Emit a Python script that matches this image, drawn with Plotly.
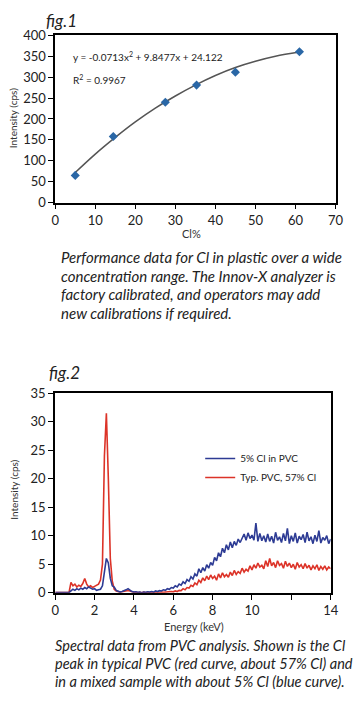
import plotly.graph_objects as go

# ---------------- data: fig.1 ----------------
cl_pct = [5, 14.5, 27.5, 35.3, 45, 61]
intensity = [65, 158, 240, 281, 312, 361]
fit_x = [5, 10, 15, 20, 25, 30, 35, 40, 45, 50, 55, 61]
fit_y = [72, 116, 156, 193, 226, 255, 281, 304, 323, 338, 350, 360]
fig1_xticks = [0, 10, 20, 30, 40, 50, 60, 70]
fig1_yticks = [0, 50, 100, 150, 200, 250, 300, 350, 400]

# ---------------- data: fig.2 ----------------
e_start, e_step = 0.0, 0.1
blue_5pct = [
    0, 0, 0, 0, 0, 0, 0, 0,
    0.3, 0.6, 0.4, 0.7, 0.5, 0.8, 0.6, 0.9, 0.7, 1.0,
    0.8, 0.6, 0.7, 0.4, 0.5, 0.6, 1.2, 3.5, 6.0, 5.2,
    2.5, 1.2, 1.0, 0.4, 0.2, 0.1, 0.2, 0.3, 0.5, 0.7,
    0.4, 0.2, 0.1, 0.15, 0.05, 0.1, 0.0, 0.1, 0.05, 0.15,
    0.1, 0.2, 0.1, 0.3, 0.2, 0.35, 0.3, 0.5, 0.4, 0.7,
    0.6, 0.9, 0.8, 1.2, 1.0, 1.5, 1.3, 1.9, 1.6, 2.3,
    2.0, 2.8, 2.4, 3.3, 2.9, 4.2, 3.5, 4.4, 3.8, 4.9,
    4.3, 5.3, 4.8, 6.2, 5.6, 7.0, 6.3, 7.8, 7.0, 8.4,
    7.5, 8.9, 7.9, 9.0, 8.3, 9.4, 8.8, 9.6, 10.3, 9.2,
    10.5, 9.5, 10.1, 9.2, 12.2, 9.0, 10.4, 9.1, 10.0, 8.9,
    10.3, 9.0, 9.9, 8.7, 10.6, 9.2, 9.8, 8.8, 10.4, 9.1,
    11.3, 8.6, 10.0, 9.0, 10.5, 8.7, 9.9, 9.3, 10.2, 8.8,
    10.6, 9.1, 9.8, 8.6, 10.1, 9.0, 10.9, 8.7, 9.7, 9.2,
    10.0, 8.6, 9.4,
]
red_57pct = [
    0, 0, 0, 0, 0, 0, 0, 0,
    1.8, 1.2, 1.5, 1.0, 1.3, 1.1, 1.6, 2.5, 1.5, 1.0,
    1.2, 0.9, 1.1, 1.3, 1.5, 2.2, 5.0, 24.0, 31.5, 20.0,
    6.0, 2.0, 0.6, 0.3, 0.2, 0.1, 0.15, 0.2, 0.3, 0.4,
    0.3, 0.1, 0.05, 0.1, 0.0, 0.05, 0.0, 0.1, 0.0, 0.05,
    0.0, 0.1, 0.0, 0.05, 0.1, 0.0, 0.1, 0.05, 0.1, 0.15,
    0.1, 0.2, 0.15, 0.3, 0.2, 0.4, 0.35, 0.7, 0.5, 0.9,
    0.8, 1.3, 1.1, 1.7, 1.4, 2.2, 1.8, 2.6, 2.1, 2.9,
    2.3, 3.1, 2.5, 2.9, 2.2, 3.3, 2.6, 3.5, 2.8, 3.2,
    2.7, 3.6, 3.0, 3.9, 3.2, 3.7, 3.4, 4.3, 3.6, 4.1,
    3.8, 4.7, 4.0, 4.9, 4.3, 5.2, 4.5, 4.8, 4.2, 5.6,
    4.6, 6.0, 4.7, 5.3, 4.4, 5.6, 4.8, 5.1, 4.3, 5.5,
    4.6, 5.2, 4.4, 5.0, 4.1, 5.3, 4.5, 4.9, 4.2, 5.1,
    4.3, 4.8, 4.0, 4.7, 4.2, 4.9, 3.9, 4.6, 4.1, 4.7,
    4.0, 4.5, 4.2,
]
energy = [round(e_start + i * e_step, 2) for i in range(len(blue_5pct))]
fig2_xticks = [0, 2, 4, 6, 8, 10, 12, 14]
fig2_xticklabels = ["0", "2", "4", "6", "8", "10", "", "14"]
fig2_yticks = [0, 5, 10, 15, 20, 25, 30, 35]

W, H = 358, 718
def px(x): return x / W
def py(y): return 1 - y / H

FONT = "Lato, 'Open Sans', sans-serif"
BLUE = "#2d3b94"
RED = "#dc3328"

fig = go.Figure()

fig.add_trace(go.Scatter(x=fit_x, y=fit_y, mode="lines", line=dict(color="#555555", width=1.5, shape="spline"),
                         xaxis="x", yaxis="y", showlegend=False, hoverinfo="skip"))
fig.add_trace(go.Scatter(x=cl_pct, y=intensity, mode="markers",
                         marker=dict(symbol="diamond", size=7, color="#2a67a6"),
                         xaxis="x", yaxis="y", showlegend=False))

fig.add_trace(go.Scatter(x=energy, y=red_57pct, mode="lines", line=dict(color=RED, width=1.6),
                         name="Typ. PVC, 57% Cl", xaxis="x2", yaxis="y2", legendrank=2))
fig.add_trace(go.Scatter(x=energy, y=blue_5pct, mode="lines", line=dict(color=BLUE, width=1.6),
                         name="5% Cl in PVC", xaxis="x2", yaxis="y2", legendrank=1))

axis_common = dict(showline=True, linecolor="black", mirror=True, ticks="outside", tickcolor="black",
                   showgrid=False, zeroline=False, tickfont=dict(family=FONT, size=13, color="#222"))

fig.update_layout(
    width=W, height=H, margin=dict(l=0, r=0, t=0, b=0),
    paper_bgcolor="white", plot_bgcolor="white",
    xaxis=dict(domain=[px(53), px(343)], anchor="y", range=[0, 70], tickvals=fig1_xticks,
               linewidth=1.5, ticklen=5, **axis_common),
    yaxis=dict(domain=[py(199), py(28)], anchor="x", range=[0, 400], tickvals=fig1_yticks,
               linewidth=1.5, ticklen=5, **axis_common),
    xaxis2=dict(domain=[px(53), px(338)], anchor="y2", range=[0, 14], tickvals=fig2_xticks,
                ticktext=fig2_xticklabels, linewidth=2, ticklen=5, **axis_common),
    yaxis2=dict(domain=[py(598), py(394)], anchor="x2", range=[0, 35], tickvals=fig2_yticks,
                linewidth=2, ticklen=5, **axis_common),
    legend=dict(x=px(203), y=py(446), xanchor="left", yanchor="top", bgcolor="rgba(0,0,0,0)",
                font=dict(family=FONT, size=10, color="#222"), itemwidth=30, traceorder="normal"),
)

def ann(text, x, y, size, italic=False, xanchor="left", yanchor="middle", angle=0, color="#222"):
    fig.add_annotation(text=text, x=px(x), y=py(y), xref="paper", yref="paper", showarrow=False,
                       xanchor=xanchor, yanchor=yanchor, textangle=angle,
                       font=dict(family=FONT, size=size, color=color, style="italic" if italic else "normal"))

ann("fig.1", 41, 13, 17, italic=True)
ann("y = -0.0713x<sup>2</sup> + 9.8477x + 24.122", 69, 50, 10)
ann("R<sup>2</sup> = 0.9967", 69, 73, 10)
ann("Intensity (cps)", 10, 113, 10, xanchor="center", angle=-90, color="#333")
ann("Cl%", 194, 231, 11, xanchor="center", color="#333")

cap1 = ["Performance data for Cl in plastic over a wide",
        "concentration range. The Innov-X analyzer is",
        "factory calibrated, and operators may add",
        "new calibrations if required."]
for i, line in enumerate(cap1):
    ann(line, 57, 255 + i * 19, 15, italic=True)

ann("fig.2", 45, 373, 17, italic=True)
ann("Intensity (cps)", 10, 493, 10, xanchor="center", angle=-90, color="#333")
ann("Energy (keV)", 197, 633, 11, xanchor="center", color="#333")

cap2 = ["Spectral data from PVC analysis. Shown is the Cl",
        "peak in typical PVC (red curve, about 57% Cl) and",
        "in a mixed sample with about 5% Cl (blue curve)."]
for i, line in enumerate(cap2):
    ann(line, 51, 652 + i * 18.5, 14.5, italic=True)

fig.write_html("out.html", config={"displayModeBar": False},
               post_script="document.body.style.margin='0';document.body.style.overflow='hidden';")
